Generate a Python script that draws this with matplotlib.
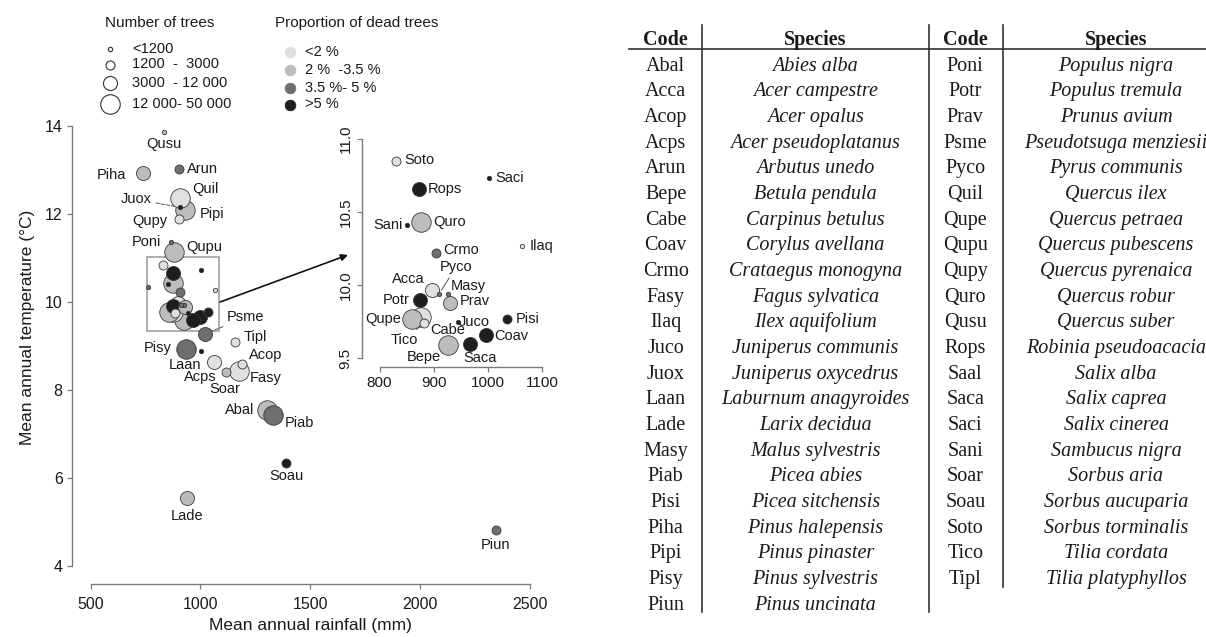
import matplotlib.pyplot as plt

plt.rcParams['font.family'] = ['Liberation Sans', 'DejaVu Sans']

# species data (table order)
codes = ['Abal', 'Acca', 'Acop', 'Acps', 'Arun', 'Bepe', 'Cabe', 'Coav', 'Crmo', 'Fasy', 'Ilaq',
         'Juco', 'Juox', 'Laan', 'Lade', 'Masy', 'Piab', 'Pisi', 'Piha', 'Pipi', 'Pisy', 'Piun',
         'Poni', 'Potr', 'Prav', 'Psme', 'Pyco', 'Quil', 'Qupe', 'Qupu', 'Qupy', 'Quro', 'Qusu',
         'Rops', 'Saal', 'Saca', 'Saci', 'Sani', 'Soar', 'Soau', 'Soto', 'Tico', 'Tipl']
species = ['Abies alba', 'Acer campestre', 'Acer opalus', 'Acer pseudoplatanus', 'Arbutus unedo',
           'Betula pendula', 'Carpinus betulus', 'Corylus avellana', 'Crataegus monogyna',
           'Fagus sylvatica', 'Ilex aquifolium', 'Juniperus communis', 'Juniperus oxycedrus',
           'Laburnum anagyroides', 'Larix decidua', 'Malus sylvestris', 'Picea abies',
           'Picea sitchensis', 'Pinus halepensis', 'Pinus pinaster', 'Pinus sylvestris',
           'Pinus uncinata', 'Populus nigra', 'Populus tremula', 'Prunus avium',
           'Pseudotsuga menziesii', 'Pyrus communis', 'Quercus ilex', 'Quercus petraea',
           'Quercus pubescens', 'Quercus pyrenaica', 'Quercus robur', 'Quercus suber',
           'Robinia pseudoacacia', 'Salix alba', 'Salix caprea', 'Salix cinerea', 'Sambucus nigra',
           'Sorbus aria', 'Sorbus aucuparia', 'Sorbus torminalis', 'Tilia cordata',
           'Tilia platyphyllos']
rain = [1301, 896, 1187, 1062, 902, 926, 877, 996, 905, 1177, 1064,
        945, 908, 1001, 938, 926, 1331, 1036, 737, 929, 934, 2343,
        866, 874, 931, 1020, 910, 907, 859, 879, 901, 876, 834,
        873, 762, 967, 1002, 851, 1116, 1389, 831, 882, 1157]
temp = [7.55, 9.97, 8.59, 8.64, 13.02, 9.59, 9.78, 9.66, 10.22, 8.44, 10.27,
        9.75, 12.15, 8.89, 5.54, 9.94, 7.43, 9.77, 12.93, 12.09, 8.93, 4.82,
        11.36, 9.90, 9.88, 9.27, 9.94, 12.36, 9.77, 11.14, 11.88, 10.43, 13.86,
        10.66, 10.33, 9.60, 10.73, 10.41, 8.42, 6.35, 10.85, 9.74, 9.10]
# number of trees class: 0 <1200, 1 1200-3000, 2 3000-12000, 3 12000-50000
n_class = [3, 2, 1, 2, 1, 3, 3, 2, 1, 3, 0,
           0, 0, 0, 2, 0, 3, 1, 2, 3, 3, 1,
           0, 2, 2, 2, 0, 3, 3, 3, 1, 3, 0,
           2, 0, 2, 0, 0, 1, 1, 1, 1, 1]
# dead trees class: 0 <2 %, 1 2-3.5 %, 2 3.5-5 %, 3 >5 %
dead_class = [1, 0, 0, 0, 2, 1, 0, 3, 2, 0, 0,
              3, 3, 3, 1, 2, 2, 3, 1, 1, 2, 2,
              2, 3, 1, 2, 2, 0, 1, 1, 0, 1, 1,
              3, 2, 3, 3, 3, 1, 3, 0, 0, 0]

size_labels = ['<1200', '1200  -  3000', '3000  - 12 000', '12 000- 50 000']
dead_labels = ['<2 %', '2 %  -3.5 %', '3.5 %- 5 %', '>5 %']

sizes = [10, 42, 102, 197]
greys = ['#e0e0e0', '#bcbcbc', '#6e6e6e', '#1e1e1e']

# label offsets in pixels (dx right, dy down)
main_lab = {'Qusu': (0, 12), 'Piha': (-31, 2), 'Arun': (24, 0), 'Quil': (25, -9), 'Pipi': (27, 4),
            'Juox': (-44, -8), 'Qupy': (-29, 2), 'Poni': (-25, 0), 'Qupu': (30, -5),
            'Psme': (41, -17), 'Tipl': (20, -5), 'Pisy': (-28, -1), 'Laan': (-16, 14),
            'Acps': (-14, 15), 'Soar': (-1, 17), 'Fasy': (26, 7), 'Acop': (24, -9),
            'Abal': (-27, 0), 'Piab': (26, 8), 'Soau': (0, 13), 'Lade': (0, 18), 'Piun': (0, 15)}
main_lead = ['Juox', 'Psme']
inset_lab = {'Soto': (23, -1), 'Rops': (26, 0), 'Saci': (21, 0), 'Sani': (-19, 0), 'Quro': (29, 0),
             'Ilaq': (19, 0), 'Crmo': (25, -3), 'Pyco': (17, -27), 'Acca': (-23, -11),
             'Masy': (21, -8), 'Prav': (24, -2), 'Potr': (-23, 0), 'Qupe': (-28, 0),
             'Cabe': (26, 13), 'Tico': (-20, 17), 'Juco': (16, 0), 'Pisi': (20, 0),
             'Coav': (26, 1), 'Saca': (10, 14), 'Bepe': (-24, 12)}
inset_lead = ['Pyco', 'Cabe', 'Tico']

W, H = 1206, 637
fig = plt.figure(figsize=(W / 100, H / 100), dpi=100)


def px_axes(l, t, r, b):
    return [l / W, 1 - b / H, (r - l) / W, (b - t) / H]


def style_axes(a, xb, yb, fs):
    for s in ['top', 'right']:
        a.spines[s].set_visible(False)
    for s in ['left', 'bottom']:
        a.spines[s].set_color('#7a7a7a')
        a.spines[s].set_linewidth(1.0)
    a.spines['bottom'].set_bounds(*xb)
    a.spines['left'].set_bounds(*yb)
    a.tick_params(direction='out', length=3.6, width=0.9, color='#7a7a7a',
                  labelcolor='#1a1a1a', labelsize=fs)
    a.set_facecolor('none')


order = sorted(range(len(codes)), key=lambda i: -n_class[i])


def draw_points(a, labels, leads, lead_ls):
    for i in order:
        a.scatter(rain[i], temp[i], s=sizes[n_class[i]], c=greys[dead_class[i]],
                  edgecolors='#3a3a3a', linewidths=0.6, zorder=3)
    for i, c in enumerate(codes):
        if c not in labels:
            continue
        dx, dy = labels[c]
        arrow = None
        if c in leads:
            arrow = dict(arrowstyle='-', color='#555555', lw=0.7, ls=lead_ls,
                         shrinkA=1, shrinkB=3)
        a.annotate(c, (rain[i], temp[i]), xytext=(dx, -dy), textcoords='offset pixels',
                   ha='center', va='center', fontsize=10.5, color='#1a1a1a',
                   arrowprops=arrow, zorder=4)


# main panel
ax = fig.add_axes(px_axes(71.9, 108.4, 548.9, 583.6))
ax.set_xlim(415, 2585)
ax.set_ylim(3.6, 14.4)
style_axes(ax, (500, 2500), (4, 14), 11.5)
ax.set_xticks([500, 1000, 1500, 2000, 2500])
ax.set_yticks([4, 6, 8, 10, 12, 14])
ax.tick_params(axis='x', pad=6)
ax.tick_params(axis='y', pad=3)
draw_points(ax, main_lab, main_lead, '--')
ax.add_patch(plt.Rectangle((758, 9.33), 1086 - 758, 11.03 - 9.33, fill=False,
                           ec='#a8a8a8', lw=1.3, zorder=2))
ax.annotate('', xy=(1671, 11.07), xytext=(1089, 10.0),
            arrowprops=dict(arrowstyle='-|>', color='#111111', lw=1.2,
                            mutation_scale=10, shrinkA=0, shrinkB=0))
ax.set_xlabel('Mean annual rainfall (mm)', fontsize=12.5, color='#1a1a1a', va='center')
ax.set_ylabel('Mean annual temperature (°C)', fontsize=12.5, color='#1a1a1a', va='center')
ax.xaxis.set_label_coords(0.5, -0.088)
ax.yaxis.set_label_coords(-0.094, 0.54)

# inset
axi = fig.add_axes(px_axes(361.7, 130.2, 549, 367))
axi.set_xlim(767, 1113)
axi.set_ylim(9.44, 11.06)
style_axes(axi, (800, 1100), (9.5, 11.0), 11)
axi.set_xticks([800, 900, 1000, 1100])
axi.set_yticks([9.5, 10.0, 10.5, 11.0])
axi.set_yticklabels(['9.5', '10.0', '10.5', '11.0'], rotation=90, va='center')
axi.tick_params(axis='both', pad=3)
draw_points(axi, inset_lab, inset_lead, '-')

# overlay for legends and table (pixel coordinates)
ov = fig.add_axes([0, 0, 1, 1], zorder=10)
ov.set_xlim(0, W)
ov.set_ylim(H, 0)
ov.axis('off')

ov.text(160, 23, 'Number of trees', ha='center', va='center', fontsize=11, color='#1a1a1a')
leg_y1 = [49, 64.5, 83, 104]
for k in range(4):
    ov.scatter(110, leg_y1[k], s=sizes[k], c='white', edgecolors='#333333', linewidths=0.8)
    ov.text(132, leg_y1[k], size_labels[k], ha='left', va='center', fontsize=10.5,
            color='#1a1a1a')

ov.text(275, 23, 'Proportion of dead trees', ha='left', va='center', fontsize=11,
        color='#1a1a1a')
leg_y2 = [51.5, 70, 88, 104.5]
for k in range(4):
    ov.scatter(290, leg_y2[k], s=60, c=greys[k], edgecolors=greys[k], linewidths=0.5)
    ov.text(305, leg_y2[k], dead_labels[k], ha='left', va='center', fontsize=10.5,
            color='#1a1a1a')

# table
serif = ['Liberation Serif', 'DejaVu Serif']
col_code = [665.7, 965.3]
col_sp = [815.3, 1116]
n_left = 22
for x in [col_code[0], col_code[1]]:
    ov.text(x, 45, 'Code', ha='center', va='baseline', fontsize=14.5, fontweight='bold',
            family=serif, color='#1a1a1a')
for x in [col_sp[0], col_sp[1]]:
    ov.text(x, 45, 'Species', ha='center', va='baseline', fontsize=14.5, fontweight='bold',
            family=serif, color='#1a1a1a')
for i, (c, sp) in enumerate(zip(codes, species)):
    col = 0 if i < n_left else 1
    row = i if i < n_left else i - n_left
    yb = 70.7 + row * 25.67
    ov.text(col_code[col], yb, c, ha='center', va='baseline', fontsize=14.5,
            family=serif, color='#1a1a1a')
    ov.text(col_sp[col], yb, sp, ha='center', va='baseline', fontsize=14.5,
            family=serif, style='italic', color='#1a1a1a', clip_on=True)
ov.plot([629, W], [49.3, 49.3], color='#333333', lw=1.2)
ov.plot([702.4, 702.4], [25, 611.7], color='#333333', lw=1.2)
ov.plot([928.6, 928.6], [25, 611.7], color='#333333', lw=1.2)
ov.plot([1003.2, 1003.2], [25, 586.7], color='#333333', lw=1.2)

fig.savefig('out.png', dpi=100)
